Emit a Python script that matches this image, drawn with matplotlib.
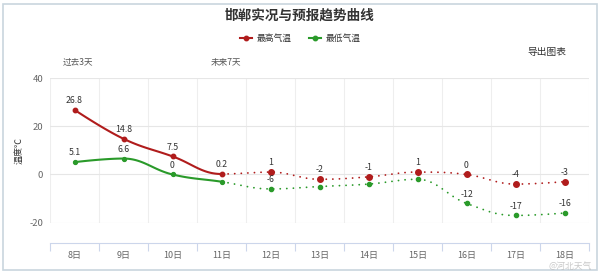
import numpy as np
import matplotlib
matplotlib.use("Agg")
import matplotlib.pyplot as plt
from matplotlib.lines import Line2D
from matplotlib.patches import Rectangle

plt.rcParams['font.family'] = ['Noto Sans CJK SC', 'DejaVu Sans']

# ---- data ----
days = ["8日", "9日", "10日", "11日", "12日", "13日", "14日", "15日", "16日", "17日", "18日"]
high = [26.8, 14.8, 7.5, 0.2, 1, -2, -1, 1, 0, -4, -3]
low = [5.1, 6.6, 0, -3, -6, -5, -4, -2, -12, -17, -16]
high_label_shown = [True] * 11
low_label_shown = [True, True, True, False, True, False, False, False, True, True, True]
n_past = 4  # indices 0..3 are observed (solid), rest forecast (dotted)
yticks = [-20, 0, 20, 40]

RED = "#b01c1c"
GREEN = "#2a9a2a"


def hc_spline(xs, ys, smoothing=1.5, nseg=40):
    """Highcharts-like spline; returns list of sampled segments (one per interval)."""
    n = len(xs)
    lc = [(x, y) for x, y in zip(xs, ys)]
    rc = [(x, y) for x, y in zip(xs, ys)]
    den = smoothing + 1
    for i in range(1, n - 1):
        x, y = xs[i], ys[i]
        lx, ly = xs[i - 1], ys[i - 1]
        nx, ny = xs[i + 1], ys[i + 1]
        lcx = (smoothing * x + lx) / den
        lcy = (smoothing * y + ly) / den
        rcx = (smoothing * x + nx) / den
        rcy = (smoothing * y + ny) / den
        if rcx != lcx:
            corr = ((rcy - lcy) * (rcx - x)) / (rcx - lcx) + y - rcy
            lcy += corr
            rcy += corr
        if lcy > ly and lcy > y:
            lcy = max(ly, y)
            rcy = 2 * y - lcy
        elif lcy < ly and lcy < y:
            lcy = min(ly, y)
            rcy = 2 * y - lcy
        if rcy > ny and rcy > y:
            rcy = max(ny, y)
            lcy = 2 * y - rcy
        elif rcy < ny and rcy < y:
            rcy = min(ny, y)
            lcy = 2 * y - rcy
        lc[i] = (lcx, lcy)
        rc[i] = (rcx, rcy)
    segs = []
    t = np.linspace(0, 1, nseg)
    for i in range(1, n):
        p0 = np.array([xs[i - 1], ys[i - 1]])
        p1 = np.array(rc[i - 1])
        p2 = np.array(lc[i])
        p3 = np.array([xs[i], ys[i]])
        pts = ((1 - t) ** 3)[:, None] * p0 + (3 * (1 - t) ** 2 * t)[:, None] * p1 \
            + (3 * (1 - t) * t ** 2)[:, None] * p2 + (t ** 3)[:, None] * p3
        segs.append(pts)
    return segs


fig = plt.figure(figsize=(6.0, 2.73), dpi=100)
fig.patch.set_facecolor("white")

# outer border
fig.add_artist(Rectangle((3 / 600, 3 / 273), 594 / 600, 266 / 273, transform=fig.transFigure,
                         fill=False, edgecolor="#c9d6de", linewidth=1.2))

ax = fig.add_axes([50 / 600, 1 - 222.7 / 273, 539 / 600, (222.7 - 78) / 273])
x = np.arange(len(days))
ax.set_xlim(-0.5, len(days) - 0.5)
ax.set_ylim(-20, 40)

# grid
ax.set_yticks(yticks)
ax.set_yticklabels([str(v) for v in yticks])
ax.set_xticks(x)
ax.set_xticklabels(days)
ax.set_xticks(np.arange(-0.5, len(days), 1.0), minor=True)
ax.grid(axis="y", which="major", color="#e6e6e6", linewidth=0.8)
ax.grid(axis="x", which="minor", color="#eeeeee", linewidth=0.8)
ax.tick_params(axis="x", which="major", length=0, labelsize=6.5, labelcolor="#666666", pad=6)
ax.tick_params(axis="x", which="minor", length=6, color="#ccd6eb", width=0.8)
ax.tick_params(axis="y", length=0, labelsize=6.8, labelcolor="#666666", pad=5)
for s in ["top", "right", "left"]:
    ax.spines[s].set_visible(False)
ax.spines["bottom"].set_position(("outward", 14.6))
ax.spines["bottom"].set_color("#ccd6eb")
ax.spines["bottom"].set_linewidth(0.8)
ax.set_axisbelow(True)

ax.set_ylabel("温度℃", fontsize=6.5, color="#333333", labelpad=4)


def draw_series(vals, color, lw, ms_past, ms_fut, labels_shown):
    segs = hc_spline(list(x.astype(float)), list(vals))
    solid = np.vstack(segs[:n_past - 1])
    dotted = np.vstack(segs[n_past - 1:])
    ax.plot(solid[:, 0], solid[:, 1], color=color, lw=lw, solid_capstyle="round", zorder=3)
    ax.plot(dotted[:, 0], dotted[:, 1], color=color, lw=1.3, linestyle=(0, (0.05, 3.6)),
            dash_capstyle="round", zorder=3)
    ax.plot(x[:n_past], vals[:n_past], "o", color=color, ms=ms_past, zorder=4)
    ax.plot(x[n_past:], vals[n_past:], "o", color=color, ms=ms_fut, zorder=4)
    for xi, v, show in zip(x, vals, labels_shown):
        if show:
            ax.annotate(f"{v:g}", (xi, v), xytext=(0, 3.5), textcoords="offset points",
                        ha="center", va="bottom", fontsize=6.3, color="#333333", zorder=5)


draw_series(high, RED, 1.5, 3.2, 4.0, high_label_shown)
draw_series(low, GREEN, 1.5, 2.8, 3.0, low_label_shown)

# title
fig.text(0.5, 1 - 16 / 273, "邯郸实况与预报趋势曲线", ha="center", va="center",
         fontsize=9.8, fontweight="bold", color="#333333")

# legend
leg_y = 1 - 38 / 273
for mx, col, lab in [(246, RED, "最高气温"), (315, GREEN, "最低气温")]:
    fig.add_artist(Line2D([(mx - 6) / 600, (mx + 6) / 600], [leg_y, leg_y], color=col, lw=1.5,
                          transform=fig.transFigure))
    fig.add_artist(Line2D([mx / 600], [leg_y], marker="o", color=col, ms=3.2,
                          transform=fig.transFigure))
    fig.text((mx + 11) / 600, leg_y, lab, ha="left", va="center", fontsize=6.3, color="#333333")

fig.text(527 / 600, 1 - 52 / 273, "导出图表", ha="left", va="center", fontsize=7, color="#333333")
fig.text(63 / 600, 1 - 62 / 273, "过去3天", ha="left", va="center", fontsize=6.2, color="#555555")
fig.text(211 / 600, 1 - 62 / 273, "未来7天", ha="left", va="center", fontsize=6.2, color="#555555")

# watermark
fig.text(592 / 600, 1 - 266 / 273, "@河北天气", ha="right", va="center", fontsize=6.3,
         color="#bbbbbb", alpha=0.8)

fig.savefig("out.png", dpi=100, facecolor="white")
